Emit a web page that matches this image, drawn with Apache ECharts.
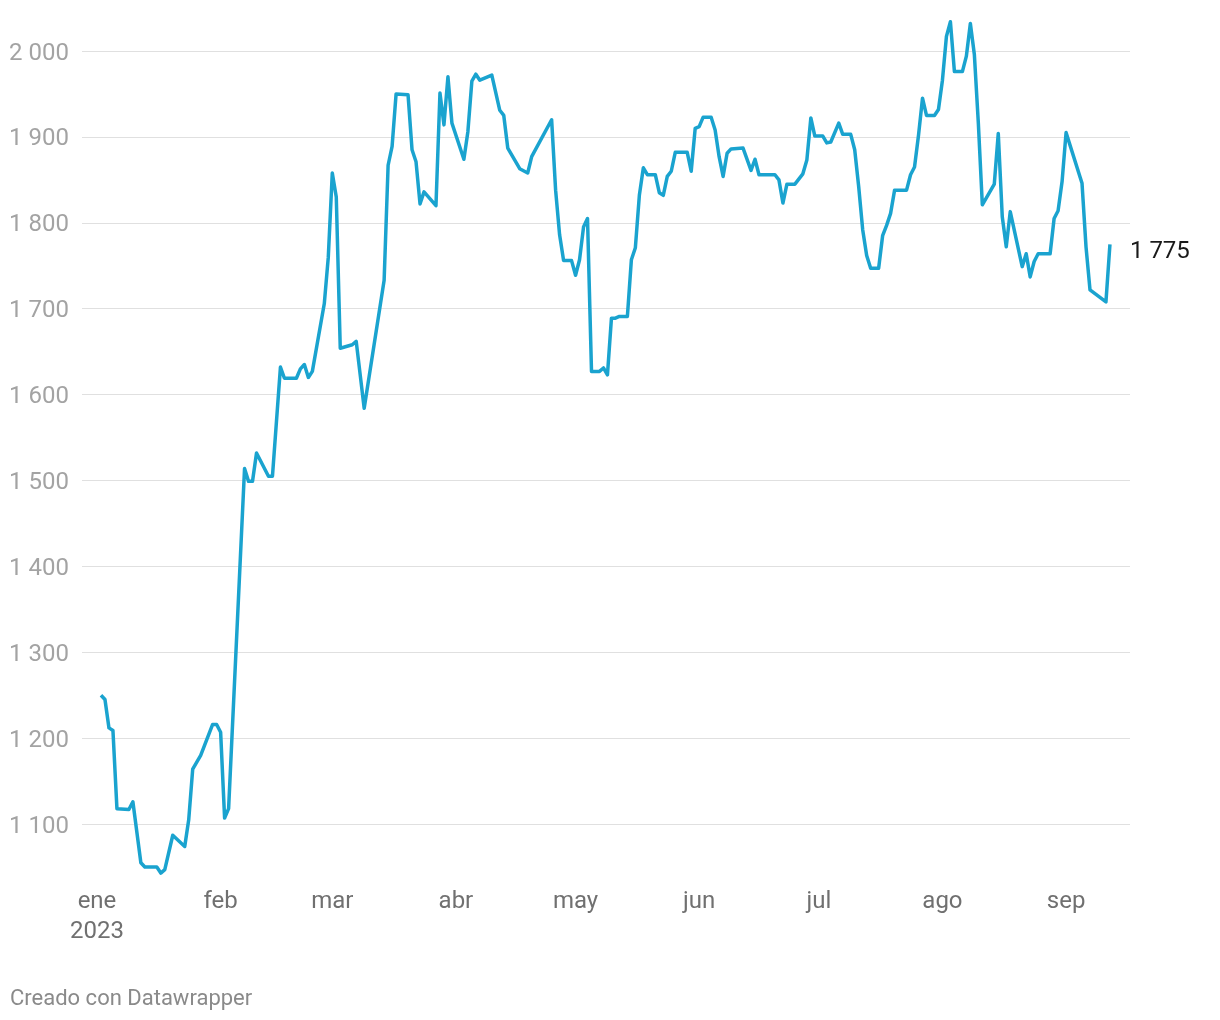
<!DOCTYPE html>
<html>
<head>
<meta charset="utf-8">
<script src="https://cdn.jsdelivr.net/npm/echarts@6.0.0/dist/echarts.min.js"></script>
<style>
html,body{margin:0;padding:0;background:#fff;}
#chart{width:1220px;height:1020px;}
</style>
</head>
<body>
<div id="chart"></div>
<script>
const dates = ['2023-01-02','2023-01-03','2023-01-04','2023-01-05','2023-01-06','2023-01-09','2023-01-10','2023-01-12','2023-01-13','2023-01-16','2023-01-17','2023-01-18','2023-01-20','2023-01-23','2023-01-24','2023-01-25','2023-01-27','2023-01-30','2023-01-31',
'2023-02-01','2023-02-02','2023-02-03','2023-02-07','2023-02-08','2023-02-09','2023-02-10','2023-02-13','2023-02-14','2023-02-16','2023-02-17','2023-02-20','2023-02-21','2023-02-22','2023-02-23','2023-02-24','2023-02-27','2023-02-28',
'2023-03-01','2023-03-02','2023-03-03','2023-03-06','2023-03-07','2023-03-09','2023-03-14','2023-03-15','2023-03-16','2023-03-17','2023-03-20','2023-03-21','2023-03-22','2023-03-23','2023-03-24','2023-03-27','2023-03-28','2023-03-29','2023-03-30','2023-03-31',
'2023-04-03','2023-04-04','2023-04-05','2023-04-06','2023-04-07','2023-04-10','2023-04-12','2023-04-13','2023-04-14','2023-04-17','2023-04-19','2023-04-20','2023-04-25','2023-04-26','2023-04-27','2023-04-28','2023-04-30',
'2023-05-01','2023-05-02','2023-05-03','2023-05-04','2023-05-05','2023-05-07','2023-05-08','2023-05-09','2023-05-10','2023-05-11','2023-05-12','2023-05-14','2023-05-15','2023-05-16','2023-05-17','2023-05-18','2023-05-19','2023-05-21','2023-05-22','2023-05-23','2023-05-24','2023-05-25','2023-05-26','2023-05-29','2023-05-30','2023-05-31',
'2023-06-01','2023-06-02','2023-06-04','2023-06-05','2023-06-06','2023-06-07','2023-06-08','2023-06-09','2023-06-12','2023-06-14','2023-06-15','2023-06-16','2023-06-20','2023-06-21','2023-06-22','2023-06-23','2023-06-25','2023-06-27','2023-06-28','2023-06-29','2023-06-30',
'2023-07-02','2023-07-03','2023-07-04','2023-07-06','2023-07-07','2023-07-09','2023-07-10','2023-07-11','2023-07-12','2023-07-13','2023-07-14','2023-07-16','2023-07-17','2023-07-18','2023-07-19','2023-07-20','2023-07-23','2023-07-24','2023-07-25','2023-07-26','2023-07-27','2023-07-28','2023-07-30','2023-07-31',
'2023-08-01','2023-08-02','2023-08-03','2023-08-04','2023-08-06','2023-08-07','2023-08-08','2023-08-09','2023-08-10','2023-08-11','2023-08-14','2023-08-15','2023-08-16','2023-08-17','2023-08-18','2023-08-21','2023-08-22','2023-08-23','2023-08-24','2023-08-25','2023-08-28','2023-08-29','2023-08-30','2023-08-31',
'2023-09-01','2023-09-05','2023-09-06','2023-09-07','2023-09-11','2023-09-12'];

const values = [1250,1245,1212,1209,1118,1117,1126,1055,1050,1050,1043,1047,1087,1074,1105,1164,1180,1216,1216,
1207,1107,1118,1514,1499,1499,1532,1505,1505,1632,1619,1619,1630,1635,1620,1627,1706,1760,
1858,1830,1654,1658,1662,1584,1733,1867,1889,1950,1949,1885,1871,1822,1836,1820,1951,1914,1970,1916,
1874,1906,1965,1973,1966,1972,1931,1925,1887,1863,1858,1877,1920,1838,1786,1756,1756,
1739,1757,1795,1805,1627,1627,1631,1623,1689,1689,1691,1691,1757,1771,1832,1864,1856,1856,1835,1832,1854,1860,1882,1882,1860,1910,
1912,1923,1923,1908,1877,1854,1881,1886,1887,1861,1874,1856,1856,1850,1823,1845,1845,1857,1873,1922,1901,
1901,1893,1894,1916,1903,1903,1885,1842,1792,1762,1747,1747,1785,1797,1811,1838,1838,1856,1865,1902,1945,1925,1925,1932,
1966,2017,2034,1976,1976,1994,2032,1996,1916,1821,1845,1904,1807,1772,1813,1749,1764,1737,1755,1764,1764,1805,1814,1848,
1905,1846,1772,1722,1708,1775];

const monthLabels = ['ene','feb','mar','abr','may','jun','jul','ago','sep'];
const yearLabel = '2023';
const yTicks = [1000,1100,1200,1300,1400,1500,1600,1700,1800,1900,2000];

const DAY = 864e5;
function toTime(s){ const p=s.split('-').map(Number); return Date.UTC(p[0],p[1]-1,p[2]); }
const jan1 = Date.UTC(2023,0,1);
const monthStarts = monthLabels.map((m,i)=>Date.UTC(2023,i,1));

function fmt(v){ return String(Math.round(v)).replace(/\B(?=(\d{3})+(?!\d))/g,' '); }

const chart = echarts.init(document.getElementById('chart'), null, {renderer:'canvas'});
chart.setOption({
  animation:false,
  backgroundColor:'#ffffff',
  textStyle:{fontFamily:'Roboto'},
  grid:{left:82, right:90, top:51, bottom:110, containLabel:false},
  xAxis:{
    type:'value',
    min: jan1 - 3.76*DAY,
    max: jan1 + 259.03*DAY,
    axisLine:{show:false},
    axisTick:{show:false},
    splitLine:{show:false},
    axisLabel:{
      customValues: monthStarts,
      showMinLabel:true,
      showMaxLabel:true,
      margin:-23,
      fontSize:24,
      lineHeight:30,
      color:'#707070',
      fontFamily:'Roboto',
      formatter:function(v){
        const m=new Date(v).getUTCMonth();
        return m===0 ? monthLabels[m]+'\n'+yearLabel : monthLabels[m];
      }
    }
  },
  yAxis:{
    type:'value',
    min: yTicks[0],
    max: yTicks[yTicks.length-1],
    interval:100,
    axisLine:{show:false},
    axisTick:{show:false},
    splitLine:{show:true, showMinLine:false, lineStyle:{color:'#e0e0e0', width:1}},
    axisLabel:{
      showMinLabel:false,
      margin:13,
      fontSize:24,
      verticalAlign:'top',
      lineHeight:5,
      color:'#a3a3a3',
      fontFamily:'Roboto',
      formatter:function(v){ return v===yTicks[0] ? '' : fmt(v); }
    }
  },
  series:[{
    type:'line',
    data: dates.map((d,i)=>[toTime(d), values[i]]),
    symbol:'none',
    clip:false,
    lineStyle:{color:'#1aa3cf', width:3.5, join:'round'},
    endLabel:{
      show:true,
      formatter:function(p){ return fmt(p.value[1]); },
      color:'#1a1a1a',
      fontSize:24,
      fontFamily:'Roboto',
      distance:20,
      offset:[0,8]
    }
  }],
  graphic:[{
    type:'text',
    left:10, top:988,
    style:{text:'Creado con Datawrapper', fill:'#8a8a8a', fontSize:22, fontFamily:'Roboto'}
  }]
});
</script>
</body>
</html>
